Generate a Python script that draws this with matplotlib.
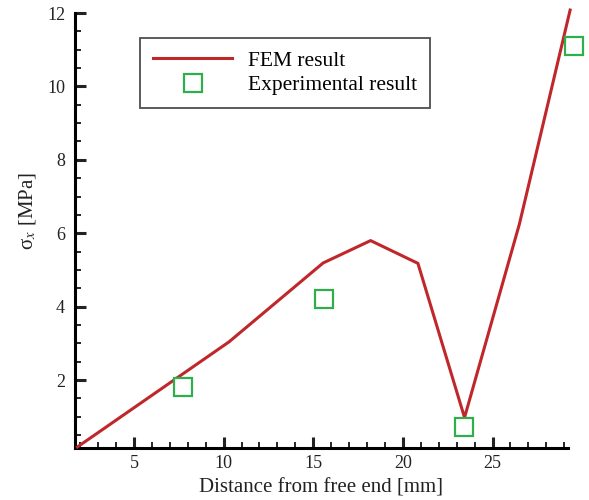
import matplotlib
matplotlib.use('Agg')
import matplotlib.pyplot as plt
from matplotlib.ticker import MultipleLocator

plt.rcParams['font.family'] = ['Liberation Serif', 'DejaVu Serif']
plt.rcParams['mathtext.fontset'] = 'stix'

# FEM curve
fem_x = [1.85, 10.3, 15.55, 18.2, 20.84, 23.44, 26.5, 29.33]
fem_y = [0.18, 3.04, 5.19, 5.8, 5.18, 0.98, 6.25, 12.08]

# experimental points
exp_x = [7.75, 15.6, 23.4, 29.55]
exp_y = [1.8, 4.2, 0.72, 11.1]

fig = plt.figure(figsize=(5.89, 5.0), dpi=100)
ax = fig.add_axes([0.127, 0.104, 0.837, 0.87])

ax.plot(fem_x, fem_y, color='#C0272B', lw=2.2, label='FEM result', clip_on=False, zorder=3)
ax.plot(exp_x, exp_y, ls='none', marker='s', ms=12.5, mfc='white', mec='#2EAF4C',
        mew=1.6, label='Experimental result', clip_on=False, zorder=4)

ax.set_xlim(1.7, 29.2)
ax.set_ylim(0.15, 12)
ax.xaxis.set_major_locator(MultipleLocator(5))
ax.xaxis.set_minor_locator(MultipleLocator(1))
ax.yaxis.set_major_locator(MultipleLocator(2))
ax.yaxis.set_minor_locator(MultipleLocator(0.5))

for s in ['top', 'right']:
    ax.spines[s].set_visible(False)
for s in ['left', 'bottom']:
    ax.spines[s].set_linewidth(2.2)

ax.tick_params(which='major', direction='in', length=8, width=2.2, labelsize=13, colors='#222222')
ax.tick_params(axis='x', which='major', pad=5)
ax.tick_params(axis='y', which='major', pad=7)
ax.tick_params(which='minor', direction='in', length=4, width=1.2)

ax.set_xlabel('Distance from free end [mm]', fontsize=15, color='#222222', labelpad=5)
ax.set_ylabel('σ$_x$ [MPa]', fontsize=15, color='#222222')
ax.yaxis.set_label_coords(-0.075, 0.545)

leg = ax.legend(loc='upper left', bbox_to_anchor=(0.132, 0.943), fontsize=15.5,
                frameon=True, fancybox=False, edgecolor='#222222', handlelength=3.7,
                borderpad=0.6, labelspacing=0.2, handletextpad=0.7, borderaxespad=0)
leg.get_frame().set_linewidth(1.3)

plt.savefig('out.png', dpi=100)
